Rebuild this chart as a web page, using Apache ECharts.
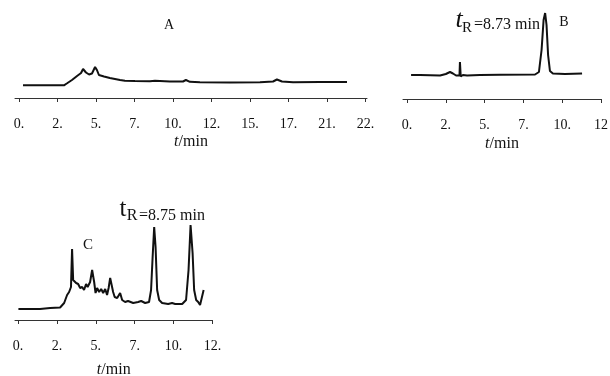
<!DOCTYPE html>
<html><head><meta charset="utf-8">
<script src="https://cdn.jsdelivr.net/npm/echarts@6/dist/echarts.min.js"></script>
<style>html,body{margin:0;padding:0;background:#fff}#c{width:610px;height:376px}</style>
</head><body><div id="c"></div>
<script>
// Panel A
const ticksA = [0, 2.5, 5, 7.5, 10, 12.5, 15, 17.5, 20, 22.5];
const labelsA = ["0.", "2.", "5.", "7.", "10.", "12.", "15.", "17.", "21.", "22."];
const timeA = [0.26, 2.92, 3.1, 3.44, 3.77, 4.03, 4.16, 4.35, 4.55, 4.74, 4.94, 5.06, 5.19, 5.52, 5.9, 6.23, 6.56, 6.88, 7.53, 8.5, 8.83, 9.8, 10.65, 10.84, 11.1, 11.75, 13.7, 15.65, 16.5, 16.75, 17.08, 17.8, 19.55, 21.3];
const signalA = [12.7, 12.7, 14.5, 18, 22, 25, 29, 25.5, 23.5, 24.5, 31, 28, 23, 21.5, 20, 19, 18, 17.3, 17, 16.8, 17.2, 16.5, 16.5, 18, 16.2, 15.7, 15.5, 15.7, 16.5, 18.5, 16.5, 15.7, 16, 16];

// Panel B
const ticksB = [0, 2.5, 5, 7.5, 10, 12.5];
const labelsB = ["0.", "2.", "5.", "7.", "10.", "12"];
const timeB = [0.26, 0.84, 2.13, 2.5, 2.77, 2.96, 3.16, 3.38, 3.41, 3.46, 3.6, 3.87, 4.7, 6.0, 8.25, 8.5, 8.67, 8.8, 8.9, 8.99, 9.09, 9.21, 9.4, 10.18, 11.28];
const signalB = [24, 24, 23.5, 25, 27, 25.5, 23.5, 23.5, 37, 22.5, 24, 23.5, 24, 24.2, 24.5, 27, 49, 79, 86, 74, 44, 28, 25.5, 25, 25.5];

// Panel C
const ticksC = [0, 2.5, 5, 7.5, 10, 12.5];
const labelsC = ["0.", "2.", "5.", "7.", "10.", "12."];
const timeC = [0.02, 1.41, 2.06, 2.7, 2.96, 3.15, 3.28, 3.4, 3.47, 3.54, 3.63, 3.73, 3.86, 3.99, 4.12, 4.24, 4.37, 4.47, 4.63, 4.76, 4.89, 4.98, 5.08, 5.21, 5.34, 5.47, 5.6, 5.72, 5.82, 5.92, 6.01, 6.11, 6.21, 6.37, 6.56, 6.69, 6.88, 7.07, 7.4, 7.72, 7.91, 8.17, 8.42, 8.55, 8.65, 8.75, 8.84, 8.94, 9.07, 9.26, 9.65, 9.9, 10.1, 10.55, 10.8, 10.96, 11.09, 11.22, 11.32, 11.45, 11.58, 11.7, 11.8, 11.93];
const signalC = [11, 11, 12, 12.5, 17, 25, 28, 33, 71, 40, 42, 37, 36, 32, 33, 30, 36, 33, 38, 50, 38, 27, 32, 28, 31, 27, 31, 25, 32, 42, 43, 28, 23, 22, 27, 20, 18, 19, 17, 18, 19, 17, 18, 30, 63, 93, 73, 30, 20, 17, 16, 17, 16, 16, 20, 50, 95, 67, 30, 20, 18, 15, 17, 30];

const zip = (a, b) => a.map((v, i) => [v, b[i]]);
const serif = '"Liberation Serif", "DejaVu Serif", serif';

function xAxisFor(idx, min, max, ticks, labels, nameGap) {
  return {
    type: 'value', gridIndex: idx, min: min, max: max,
    axisLine: { show: true, lineStyle: { color: '#333', width: 1 } },
    axisTick: { show: true, length: 4, inside: false, customValues: ticks, lineStyle: { color: '#333' } },
    axisLabel: {
      customValues: ticks, margin: 19, color: '#111', fontFamily: serif, fontSize: 14,
      formatter: v => { const i = ticks.findIndex(t => Math.abs(t - v) < 1e-6); return i >= 0 ? labels[i] : ''; }
    },
    splitLine: { show: false },
    name: '{i|t}{n|/min}', nameLocation: 'middle', nameGap: nameGap,
    nameTextStyle: { rich: { i: { fontFamily: serif, fontStyle: 'italic', fontSize: 16, color: '#111' }, n: { fontFamily: serif, fontSize: 16, color: '#111' } } }
  };
}
function yAxisFor(idx, max) {
  return { type: 'value', gridIndex: idx, min: 0, max: max, show: false, splitLine: { show: false } };
}
function lineSeries(idx, data) {
  return { type: 'line', xAxisIndex: idx, yAxisIndex: idx, data: data, showSymbol: false, symbol: 'none',
    lineStyle: { color: '#111', width: 2 }, animation: false };
}
function txt(x, y, text, size, extra) {
  return { type: 'text', x: x, y: y, silent: true,
    style: Object.assign({ text: text, font: size + 'px ' + serif, fill: '#111', align: 'center', verticalAlign: 'middle' }, extra || {}) };
}

const chart = echarts.init(document.getElementById('c'), null, { renderer: 'canvas' });
chart.setOption({
  backgroundColor: '#fff',
  animation: false,
  grid: [
    { left: 15, top: 58, width: 352, height: 40, containLabel: false, outerBoundsMode: 'none' },
    { left: 403, top: 9, width: 198, height: 90, containLabel: false, outerBoundsMode: 'none' },
    { left: 15, top: 220, width: 197.5, height: 100, containLabel: false, outerBoundsMode: 'none' }
  ],
  xAxis: [
    xAxisFor(0, -0.26, 22.6, ticksA, labelsA, 36),
    xAxisFor(1, -0.26, 12.5, ticksB, labelsB, 37),
    xAxisFor(2, -0.2, 12.5, ticksC, labelsC, 42)
  ],
  yAxis: [yAxisFor(0, 40), yAxisFor(1, 90), yAxisFor(2, 100)],
  series: [lineSeries(0, zip(timeA, signalA)), lineSeries(1, zip(timeB, signalB)), lineSeries(2, zip(timeC, signalC))],
  graphic: [
    txt(169, 25, 'A', 14),
    txt(459, 20, 't', 26, { font: 'italic 26px ' + serif }),
    txt(467, 28, 'R', 15),
    txt(507, 25, '=8.73 min', 16),
    txt(564, 22, 'B', 14),
    txt(123, 209, 't', 25),
    txt(132, 216, 'R', 16),
    txt(172, 216, '=8.75 min', 16),
    txt(88, 245, 'C', 15)
  ]
});
</script></body></html>
